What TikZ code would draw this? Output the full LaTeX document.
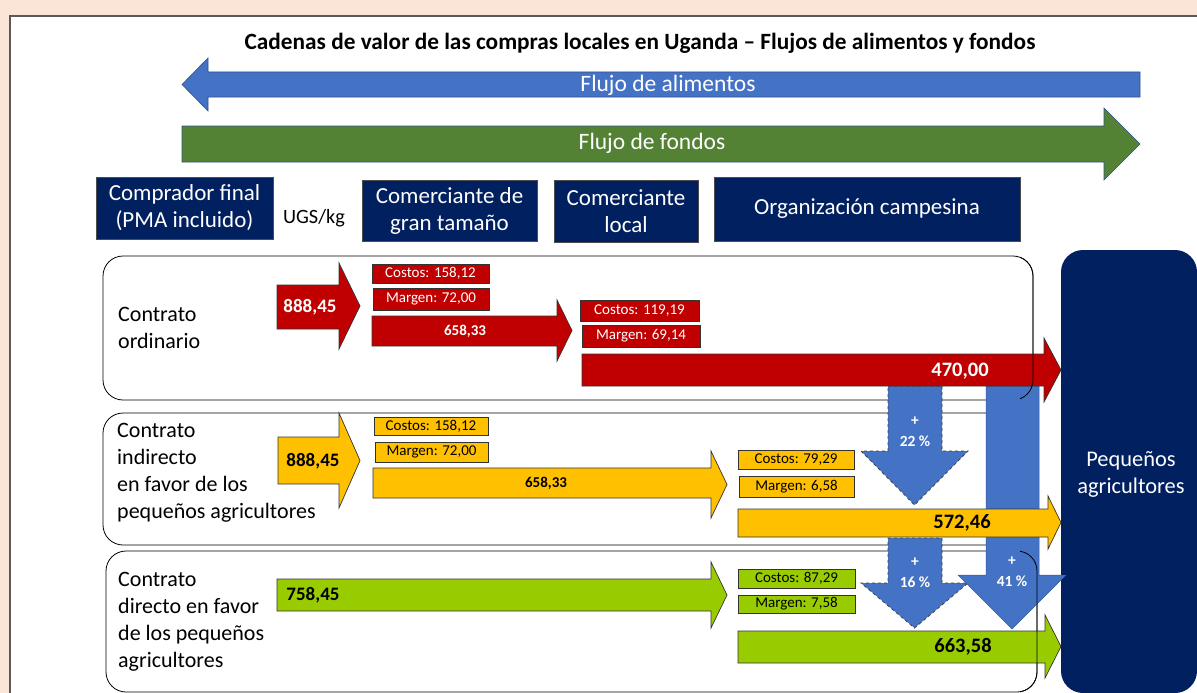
\documentclass[tikz,border=0pt]{standalone}
\usepackage{fontspec}
\setmainfont{Carlito}
\definecolor{peach}{HTML}{FBE5D6}
\definecolor{navy}{HTML}{002060}
\definecolor{fblue}{HTML}{4472C4}
\definecolor{fgreen}{HTML}{548235}
\definecolor{fred}{HTML}{C00000}
\definecolor{fyellow}{HTML}{FFC000}
\definecolor{flime}{HTML}{99CC00}
\definecolor{oline}{HTML}{2F528F}
\newcommand\myrarrow[8]{\path[#1] (#2,#5) -- (#3,#5) -- (#3,#7) -- (#4,{(#7+#8)/2}) -- (#3,#8) -- (#3,#6) -- (#2,#6) -- cycle;}
\newcommand\mydarrow[8]{\path[#1] (#2,#4) -- (#3,#4) -- (#3,#5) -- (#7,#5) -- ({(#6+#7)/2},#8) -- (#6,#5) -- (#2,#5) -- cycle;}
\newcommand\mybox[7]{\node[#1, minimum width={#5-#3}, minimum height={#6-#4}] (#2) at ({(#3+#5)/2},{(#4+#6)/2}) {#7};}
\tikzset{
  hdr/.style={fill=navy, draw=black!70, text=white, font=\fontsize{23}{27}\selectfont, align=center, inner sep=0pt},
  rowbox/.style={draw=black, line width=0.8pt, rounded corners=20pt},
  lbl/.style={anchor=west, align=left, font=\fontsize{22}{27}\selectfont, inner sep=0pt},
  arr/.style={draw=black!80, line width=0.7pt},
  small/.style={draw=black!80, line width=0.7pt, inner sep=0pt, font=\fontsize{15}{16}\selectfont},
  val/.style={font=\bfseries\fontsize{19}{20}\selectfont, inner sep=0pt},
  pct/.style={font=\bfseries\fontsize{15.5}{20.5}\selectfont, text=white, align=center, inner sep=0pt},
}
\begin{document}
\begin{tikzpicture}[x=1pt,y=-1pt]
\useasboundingbox (0,0) rectangle (1197,693);
\fill[peach] (0,0) rectangle (1197,693);
\draw[fill=white, draw=black!65, line width=1.2pt] (10,16) rectangle (1230,730);
\node[font=\bfseries\fontsize{23.3}{26}\selectfont] (title) at (640,43) {Cadenas de valor de las compras locales en Uganda – Flujos de alimentos y fondos};
% flow arrows
\path[fill=fblue, draw=oline, line width=0.6pt] (1140,72) -- (208,72) -- (208,58) -- (182,84.5) -- (208,111) -- (208,97) -- (1140,97) -- cycle;
\node[text=white, font=\fontsize{23.5}{26}\selectfont] (alim) at (668,85) {Flujo de alimentos};
\myrarrow{fill=fgreen, draw=oline, line width=0.6pt}{182}{1104}{1140}{126}{162}{108}{180}
\node[text=white, font=\fontsize{23.5}{26}\selectfont] (fond) at (652,143) {Flujo de fondos};
% headers
\mybox{hdr}{comp}{96}{177}{273}{239}{Comprador final\\(PMA incluido)}
\node[font=\fontsize{20.3}{22}\selectfont] (ugs) at (314,218) {UGS/kg};
\mybox{hdr}{gran}{362}{180}{537}{241}{Comerciante de\\gran tamaño}
\mybox{hdr}{loc}{554}{180}{698}{242}{Comerciante\\local}
\mybox{hdr}{org}{714}{177}{1020}{241}{Organización campesina}
% rows
\draw[rowbox] (103,256) rectangle (1033,400);
\draw[rowbox] (103,413) rectangle (1037,545);
\draw[rowbox] (106,551) rectangle (1037,692);
\node[lbl] (l1) at (118,328) {Contrato\\ordinario};
\node[lbl] (l2) at (117,472.5) {Contrato\\indirecto\\en favor de los\\pequeños agricultores};
\node[lbl] (l3) at (118,622) {Contrato\\directo en favor\\de los pequeños\\agricultores};
% right box
\node[fill=navy, rounded corners=22pt, minimum width=136pt, minimum height=443pt, inner sep=0pt] (peqbox) at (1129,471.5) {};
\node[text=white, align=center, font=\fontsize{22.4}{27}\selectfont] (peq) at (1131,474) {Pequeños\\agricultores};
% blue down arrows
\mydarrow{fill=fblue, draw=black!75, dashed, line width=0.8pt}{888}{942}{386}{451}{861}{968}{505}
\node[pct] (p22) at (915,432) {+\\22 \%};
\mydarrow{fill=fblue, draw=black!75, dashed, line width=0.8pt}{888}{942}{538}{583}{861}{968}{628}
\node[pct] (p16) at (915,573) {+\\16 \%};
\mydarrow{fill=fblue, draw=fblue!80!black, line width=0.5pt}{986}{1039}{386}{575}{958}{1066}{629}
\node[pct] (p41) at (1012,572) {+\\41 \%};
% red row
\myrarrow{arr, fill=fred}{277}{339}{360}{285}{329}{263}{349}
\node[val, text=white] (r1) at (310,307) {888,45};
\mybox{small, fill=fred, text=white}{rc1}{372}{264}{489}{283}{Costos: 158,12}
\mybox{small, fill=fred, text=white}{rm1}{373}{288}{489}{310}{Margen: 72,00}
\myrarrow{arr, fill=fred}{372}{557}{572}{316}{346}{300}{361}
\node[val, text=white, font=\bfseries\fontsize{15}{18}\selectfont] (r2) at (465,331) {658,33};
\mybox{small, fill=fred, text=white}{rc2}{580}{300}{699}{321}{Costos: 119,19}
\mybox{small, fill=fred, text=white}{rm2}{582}{325}{700}{347}{Margen: 69,14}
\myrarrow{arr, fill=fred}{582}{1044}{1061}{354}{386}{338}{402}
\node[val, text=white, font=\bfseries\fontsize{20.5}{22}\selectfont] (r3) at (960,371) {470,00};
% yellow row
\myrarrow{arr, fill=fyellow}{278}{339}{360}{437}{484}{413}{508}
\node[val] (y1) at (313,461) {888,45};
\mybox{small, fill=fyellow}{yc1}{374}{417}{488}{435}{Costos: 158,12}
\mybox{small, fill=fyellow}{ym1}{375}{442}{488}{462}{Margen: 72,00}
\myrarrow{arr, fill=fyellow}{373}{711}{727}{468}{498}{451}{518}
\node[val, font=\bfseries\fontsize{15}{18}\selectfont] (y2) at (546,483) {658,33};
\mybox{small, fill=fyellow}{yc2}{738}{450}{854}{469}{Costos: 79,29}
\mybox{small, fill=fyellow}{ym2}{739}{476}{854}{497}{Margen: 6,58}
\myrarrow{arr, fill=fyellow}{738}{1048}{1061}{509}{537}{496}{549}
\node[val, font=\bfseries\fontsize{20.5}{22}\selectfont] (y3) at (962,523) {572,46};
% green row
\myrarrow{arr, fill=flime}{277}{711}{727}{579}{611}{562}{628}
\node[val] (g1) at (313,595) {758,45};
\mybox{small, fill=flime}{gc}{738}{569}{855}{588}{Costos: 87,29}
\mybox{small, fill=flime}{gm}{738}{595}{855}{613}{Margen: 7,58}
\myrarrow{arr, fill=flime}{738}{1045}{1061}{631}{663}{615}{678}
\node[val, font=\bfseries\fontsize{20.5}{22}\selectfont] (g2) at (963,647) {663,58};
% row right edges over arrows
\begin{scope}
\clip (1020,250) rectangle (1050,700);
\draw[rowbox] (103,256) rectangle (1033,400);
\draw[rowbox] (106,551) rectangle (1037,692);
\end{scope}
\end{tikzpicture}
\end{document}
